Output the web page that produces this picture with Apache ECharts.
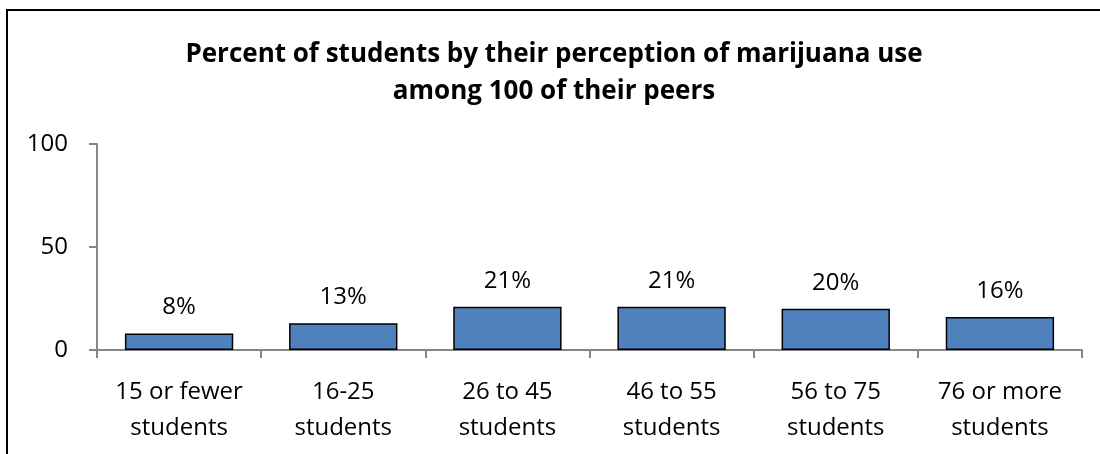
<!DOCTYPE html>
<html>
<head>
<meta charset="utf-8">
<script src="https://cdn.jsdelivr.net/npm/echarts@6/dist/echarts.min.js"></script>
<style>
html,body{margin:0;padding:0;background:#fff;}
#c{width:1100px;height:454px;}
</style>
</head>
<body>
<div id="c"></div>
<script>
const titleLines = ['Percent of students by their perception of marijuana use', 'among 100 of their peers'];
const categories = ['15 or fewer\nstudents', '16-25\nstudents', '26 to 45\nstudents', '46 to 55\nstudents', '56 to 75\nstudents', '76 or more\nstudents'];
const values = [8, 13, 21, 21, 20, 16];
const yTicks = { min: 0, max: 100, interval: 50 };

const FONT = '"Open Sans"';
const chart = echarts.init(document.getElementById('c'), null, { renderer: 'canvas' });
chart.setOption({
  backgroundColor: '#ffffff',
  animation: false,
  title: {
    text: titleLines.join('\n'),
    left: 554,
    textAlign: 'center',
    top: 36,
    padding: 0,
    textStyle: { fontFamily: FONT, fontWeight: 'bold', fontSize: 26, color: '#000', lineHeight: 37 }
  },
  graphic: [{
    type: 'rect',
    shape: { x: 7, y: 10, width: 1300, height: 700 },
    style: { fill: null, stroke: '#000', lineWidth: 2 },
    silent: true
  }],
  grid: { left: 97, right: 18, top: 144, bottom: 104, containLabel: false },
  xAxis: {
    type: 'category',
    data: categories,
    axisLine: { lineStyle: { color: '#868686', width: 2 } },
    axisTick: { show: true, length: 8, lineStyle: { color: '#868686', width: 2 } },
    axisLabel: { fontFamily: FONT, fontSize: 24, color: '#000', lineHeight: 36, margin: 24, interval: 0 }
  },
  yAxis: {
    type: 'value',
    min: yTicks.min, max: yTicks.max, interval: yTicks.interval,
    splitLine: { show: false },
    axisLine: { show: true, lineStyle: { color: '#868686', width: 2 } },
    axisTick: { show: true, length: 8, lineStyle: { color: '#868686', width: 2 } },
    axisLabel: { fontFamily: FONT, fontSize: 24, color: '#000', margin: 29 }
  },
  series: [{
    type: 'bar',
    data: values,
    barWidth: '66%',
    itemStyle: { color: '#4F81BD', borderColor: '#000', borderWidth: 1.5 },
    label: {
      show: true, position: 'top', distance: 14,
      formatter: '{c}%',
      fontFamily: FONT, fontSize: 24, color: '#000'
    }
  }]
});
</script>
</body>
</html>
